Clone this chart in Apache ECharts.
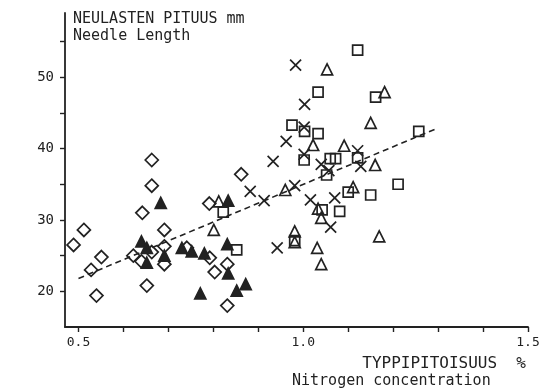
<!DOCTYPE html>
<html>
<head>
<meta charset="utf-8">
<script src="https://cdn.jsdelivr.net/npm/echarts@6/dist/echarts.min.js"></script>
<style>
  html, body { margin: 0; padding: 0; background: #fff; }
  #chart { width: 550px; height: 392px; }
</style>
</head>
<body>
<div id="chart"></div>
<script>
// values: [nitrogen %, needle length mm]
const diamonds = [
  [0.489, 26.5], [0.512, 28.6], [0.528, 23.0], [0.551, 24.8], [0.540, 19.4],
  [0.622, 25.0], [0.642, 31.0], [0.663, 34.8], [0.663, 38.4], [0.640, 24.2],
  [0.663, 25.5], [0.652, 20.8], [0.691, 28.6], [0.691, 26.3], [0.691, 23.8],
  [0.741, 26.1], [0.792, 24.7], [0.803, 22.7], [0.791, 32.3], [0.831, 23.8],
  [0.831, 18.0], [0.862, 36.4]
];
const filledTriangles = [
  [0.683, 32.4], [0.640, 27.0], [0.652, 26.1], [0.652, 24.0], [0.691, 25.0],
  [0.730, 26.1], [0.752, 25.6], [0.771, 19.7], [0.780, 25.3], [0.833, 32.7],
  [0.831, 26.6], [0.833, 22.5], [0.852, 20.1], [0.872, 21.0]
];
const openTriangles = [
  [0.812, 32.6], [0.801, 28.6], [0.960, 34.2], [0.981, 28.4], [0.981, 26.9],
  [1.053, 51.1], [1.181, 47.9], [1.150, 43.6], [1.022, 40.5], [1.091, 40.4],
  [1.160, 37.7], [1.111, 34.6], [1.033, 31.6], [1.040, 30.3], [1.031, 26.1],
  [1.040, 23.8], [1.169, 27.7]
];
const crosses = [
  [0.882, 34.0], [0.913, 32.7], [0.942, 26.1], [0.933, 38.2], [0.962, 41.0],
  [0.983, 51.7], [1.003, 46.2], [1.002, 43.0], [1.002, 39.2], [0.981, 34.8],
  [1.016, 32.8], [1.070, 33.1], [1.040, 37.8], [1.057, 36.9], [1.121, 39.7],
  [1.128, 37.5], [1.061, 29.0]
];
const squares = [
  [1.121, 53.8], [1.033, 47.9], [1.161, 47.2], [0.975, 43.3], [1.003, 42.4],
  [1.033, 42.1], [1.257, 42.4], [1.002, 38.4], [1.060, 38.6], [1.072, 38.6],
  [1.052, 36.3], [1.121, 38.7], [1.100, 33.9], [1.150, 33.5], [1.211, 35.0],
  [1.042, 31.4], [1.081, 31.2], [0.981, 27.1], [0.822, 31.1], [0.852, 25.8]
];
const trendLine = [[0.50, 21.8], [1.30, 42.9]];

const xTicks = [0.5, 0.6, 0.7, 0.8, 0.9, 1.0, 1.1, 1.2, 1.3, 1.4, 1.5];
const xLabels = [0.5, 1.0, 1.5];
const yTicks = [20, 25, 30, 35, 40, 45, 50, 55];
const yLabels = [20, 30, 40, 50];

const ink = '#222';
const mono = 'DejaVu Sans Mono';

const chart = echarts.init(document.getElementById('chart'));

function scatter(data, symbol, size, filled) {
  return {
    type: 'scatter',
    data: data,
    symbol: symbol,
    symbolSize: size,
    itemStyle: {
      color: filled ? ink : 'rgba(0,0,0,0)',
      borderColor: ink,
      borderWidth: 1.7,
      opacity: 1
    },
    emphasis: { disabled: true },
    z: 3
  };
}

const option = {
  animation: false,
  grid: { left: 65, right: 22, top: 13, bottom: 65 },
  xAxis: {
    type: 'value',
    min: 0.47,
    max: 1.5,
    splitLine: { show: false },
    axisLine: { lineStyle: { color: ink, width: 1.8 } },
    axisTick: { show: true, length: 5, customValues: xTicks, lineStyle: { color: ink, width: 1.4 } },
    axisLabel: {
      customValues: xLabels,
      margin: 9,
      color: ink,
      fontFamily: mono,
      fontSize: 13,
      formatter: v => v.toFixed(1)
    }
  },
  yAxis: {
    type: 'value',
    min: 15,
    max: 59,
    splitLine: { show: false },
    axisLine: { show: true, lineStyle: { color: ink, width: 1.8 } },
    axisTick: { show: true, length: 5, customValues: yTicks, lineStyle: { color: ink, width: 1.4 } },
    axisLabel: {
      customValues: yLabels,
      margin: 11,
      color: ink,
      fontFamily: mono,
      fontSize: 14
    }
  },
  graphic: [
    { type: 'text', left: 73, top: 12, style: { text: 'NEULASTEN PITUUS mm', fill: ink, font: '15px "DejaVu Sans Mono"' } },
    { type: 'text', left: 73, top: 29, style: { text: 'Needle Length', fill: ink, font: '15px "DejaVu Sans Mono"' } },
    { type: 'text', right: 24, top: 356, style: { text: 'TYPPIPITOISUUS  %', fill: ink, font: '16px "DejaVu Sans Mono"' } },
    { type: 'text', left: 292, top: 374, style: { text: 'Nitrogen concentration', fill: ink, font: '15px "DejaVu Sans Mono"' } }
  ],
  series: [
    {
      type: 'line',
      data: trendLine,
      symbol: 'none',
      lineStyle: { color: ink, width: 1.6, type: [6, 4] },
      z: 2
    },
    scatter(diamonds, 'diamond', [13, 13], false),
    scatter(filledTriangles, 'triangle', [11, 11], true),
    scatter(openTriangles, 'triangle', [11, 11], false),
    scatter(crosses, 'path://M0,0L10,10M10,0L0,10', [11, 11], false),
    scatter(squares, 'rect', [10, 10], false)
  ]
};

chart.setOption(option);
</script>
</body>
</html>
